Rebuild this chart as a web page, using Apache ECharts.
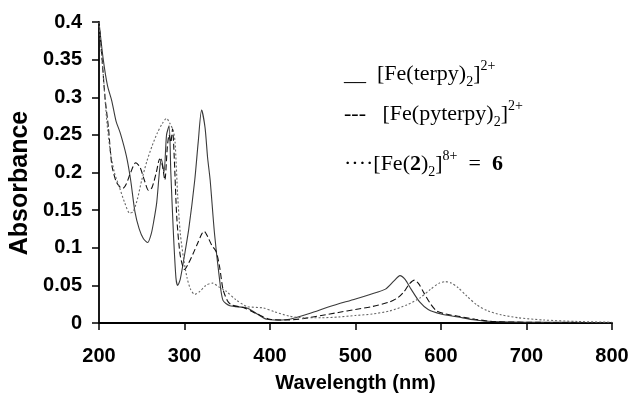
<!DOCTYPE html>
<html>
<head>
<meta charset="utf-8">
<script src="https://cdn.jsdelivr.net/npm/echarts@6/dist/echarts.min.js"></script>
<style>html,body{margin:0;padding:0;background:#fff;}#c{width:630px;height:393px;}</style>
</head>
<body>
<div id="c"></div>
<script>
// [Fe(terpy)2]2+ (solid)
const terpyX = [200,205,210,215,220,225,232,237,242,247,252,257,261,264,267.5,271,273,276,279,282,284,287,290,292,295,300,305,312,316,320,324,327,330,335,341,345,353,373,385,396,410,423,447,470,500,517,535,545,552,558,565,575,585,600,620,640,660,700,750,800];
const terpyY = [0.40,0.35,0.315,0.295,0.268,0.252,0.222,0.19,0.148,0.125,0.112,0.107,0.118,0.135,0.16,0.205,0.218,0.2,0.25,0.262,0.2,0.12,0.06,0.05,0.058,0.09,0.125,0.19,0.24,0.283,0.26,0.22,0.19,0.12,0.058,0.03,0.023,0.02,0.012,0.005,0.004,0.005,0.013,0.022,0.032,0.038,0.045,0.056,0.063,0.058,0.045,0.028,0.018,0.012,0.008,0.004,0.002,0.001,0.001,0.0];
// [Fe(pyterpy)2]2+ (dashed)
const pyterpyX = [200,203,207,211,215,220,225,228,232,237,243,248,253,258,262,267,271,274,277,280,282,284,286,288,291,295,300,305,310,315,320,323,327,332,337,341,345,350,355,370,385,400,420,440,460,480,500,520,540,550,557,563,569,574,580,588,595,605,620,640,660,700,800];
const pyterpyY = [0.40,0.36,0.30,0.26,0.21,0.188,0.18,0.179,0.185,0.2,0.213,0.207,0.19,0.176,0.18,0.2,0.218,0.21,0.19,0.235,0.25,0.24,0.258,0.22,0.14,0.09,0.071,0.08,0.092,0.105,0.118,0.122,0.115,0.103,0.095,0.075,0.045,0.03,0.024,0.02,0.012,0.005,0.004,0.006,0.01,0.014,0.018,0.022,0.028,0.034,0.042,0.052,0.057,0.052,0.04,0.025,0.016,0.012,0.009,0.005,0.002,0.001,0.0];
// [Fe(2)2]8+ = 6 (dotted)
const fe2X = [200,202,205,209,213,218,224,230,236,240,245,250,256,262,268,274,279,283,287,289,292,295,299,303,307,312,318,325,333,340,349,360,373,392,405,423,440,460,480,500,520,540,560,575,588,598,605,612,620,630,642,655,670,690,720,760,800];
const fe2Y = [0.40,0.37,0.33,0.27,0.23,0.2,0.18,0.16,0.146,0.148,0.165,0.19,0.215,0.235,0.252,0.265,0.272,0.265,0.255,0.24,0.17,0.12,0.085,0.06,0.045,0.038,0.042,0.05,0.053,0.048,0.042,0.031,0.022,0.02,0.015,0.009,0.007,0.007,0.008,0.01,0.012,0.016,0.024,0.033,0.045,0.053,0.055,0.053,0.047,0.036,0.024,0.016,0.011,0.007,0.004,0.002,0.001];

const xTicks = [200,300,400,500,600,700,800];
const yTicks = [0,0.05,0.1,0.15,0.2,0.25,0.3,0.35,0.4];

const pairs = (xs, ys) => xs.map((x, i) => [x, ys[i]]);

const chart = echarts.init(document.getElementById('c'), null, {renderer: 'canvas'});
const axisFont = {fontFamily: 'Liberation Sans', fontWeight: 'bold', fontSize: 20, color: '#000'};
const mainS = {fontFamily: 'Liberation Serif', fontSize: 22, lineHeight: 30, verticalAlign: 'middle', color: '#000'};
const boldS = Object.assign({}, mainS, {fontWeight: 'bold'});
const subS = {fontFamily: 'Liberation Serif', fontSize: 14, lineHeight: 14, verticalAlign: 'bottom', color: '#000'};
const supS = {fontFamily: 'Liberation Serif', fontSize: 14, lineHeight: 14, verticalAlign: 'top', color: '#000'};
const rich = {m: mainS, b: boldS, sub: subS, sup: supS};

chart.setOption({
  animation: false,
  grid: {left: 99, right: 18, top: 22, bottom: 70, containLabel: false, outerBoundsMode: 'none'},
  xAxis: {
    type: 'value', min: 200, max: 800, interval: 100,
    name: 'Wavelength (nm)', nameLocation: 'middle', nameGap: 50,
    nameTextStyle: Object.assign({}, axisFont),
    axisLine: {show: true, lineStyle: {color: '#000', width: 1.8}},
    axisTick: {show: true, length: 7, lineStyle: {color: '#000', width: 1.5}},
    axisLabel: Object.assign({margin: 23, formatter: v => xTicks.includes(v) ? String(v) : ''}, axisFont),
    splitLine: {show: false}
  },
  yAxis: {
    type: 'value', min: 0, max: 0.4, interval: 0.05,
    axisLine: {show: true, lineStyle: {color: '#000', width: 1.8}},
    axisTick: {show: true, length: 7, lineStyle: {color: '#000', width: 1.5}},
    axisLabel: Object.assign({margin: 17, formatter: v => {
      const t = yTicks.find(a => Math.abs(a - v) < 1e-9);
      return t === undefined ? '' : String(t);
    }}, axisFont),
    splitLine: {show: false}
  },
  series: [
    {name: 'terpy', type: 'line', data: pairs(terpyX, terpyY), showSymbol: false, smooth: 0.25,
     lineStyle: {color: '#3a3a3a', width: 1.1, type: 'solid'}},
    {name: 'pyterpy', type: 'line', data: pairs(pyterpyX, pyterpyY), showSymbol: false, smooth: 0.25,
     lineStyle: {color: '#111', width: 1.1, type: [6, 3]}},
    {name: 'fe2', type: 'line', data: pairs(fe2X, fe2Y), showSymbol: false, smooth: 0.25,
     lineStyle: {color: '#666', width: 1.1, type: [2, 2]}}
  ],
  graphic: [
    {type: 'text', x: 20, y: 183, rotation: Math.PI / 2,
     style: {text: 'Absorbance', fontFamily: 'Liberation Sans', fontWeight: 'bold', fontSize: 25,
             fill: '#000', align: 'center', verticalAlign: 'middle'}},
    {type: 'text', x: 344, y: 59,
     style: {text: '{m|__  [Fe(terpy)}{sub|2}{m|]}{sup|2+}', rich: rich, align: 'left', verticalAlign: 'top'}},
    {type: 'text', x: 344, y: 99,
     style: {text: '{m|---   [Fe(pyterpy)}{sub|2}{m|]}{sup|2+}', rich: rich, align: 'left', verticalAlign: 'top'}},
    {type: 'text', x: 344, y: 149,
     style: {text: '{m|····[Fe(}{b|2}{m|)}{sub|2}{m|]}{sup|8+}{m|  =  }{b|6}', rich: rich, align: 'left', verticalAlign: 'top'}}
  ]
});
</script>
</body>
</html>
